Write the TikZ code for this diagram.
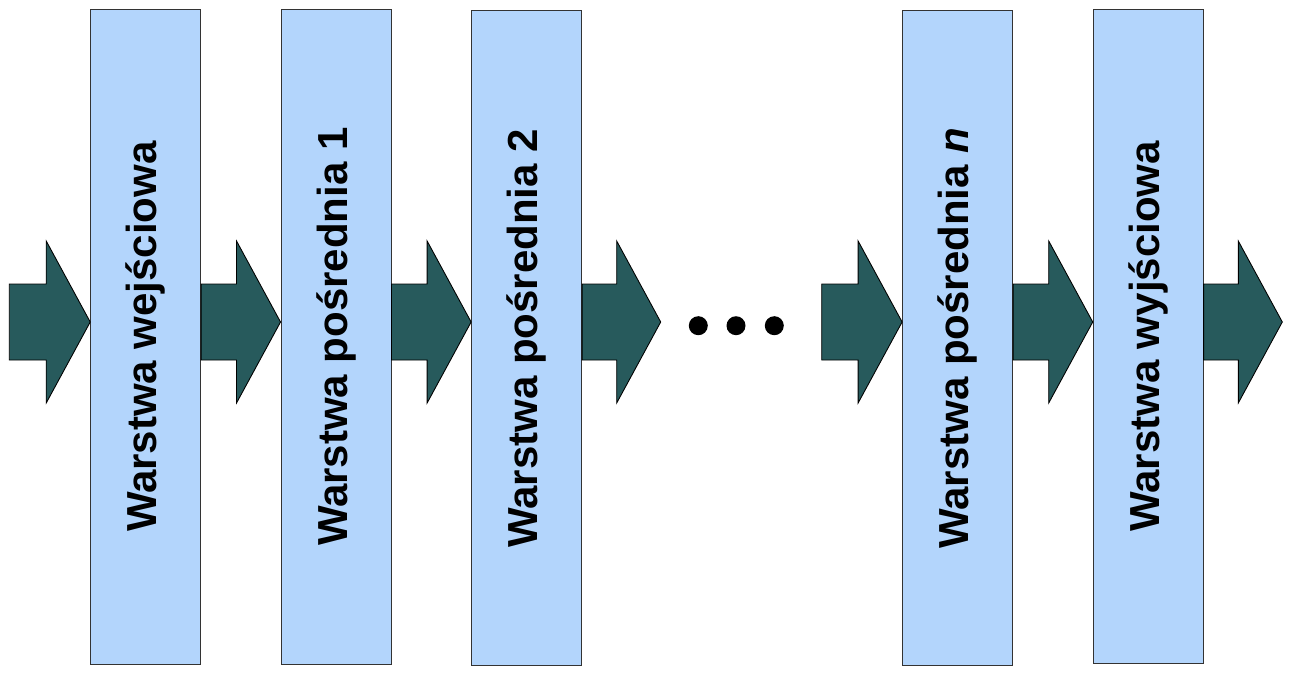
\documentclass[tikz,border=0pt]{standalone}
\usepackage{fontspec}
\setmainfont{Liberation Sans}
\usetikzlibrary{calc}

\definecolor{layerblue}{RGB}{179,213,252}
\definecolor{arrowteal}{RGB}{39,90,92}

\tikzset{
  layer/.style={draw=black!80, line width=0.55pt, fill=layerblue, minimum width=2.2cm, minimum height=13.1cm, inner sep=0pt},
  layertext/.style={rotate=90, font=\fontsize{23.9}{28}\selectfont\bfseries, inner sep=0pt},
  blockarrow/.style={draw=black, line width=0.5pt, fill=arrowteal,
    to path={($(\tikztostart)+(0,-38)$) -- ($(\tikztotarget)+(-44,-38)$) -- ++(0,-43) -- (\tikztotarget) -- ++(-44,81) -- ++(0,-43) -- ($(\tikztostart)+(0,38)$) -- cycle}}
}

\begin{document}
\begin{tikzpicture}[x=0.02cm,y=-0.02cm]
\useasboundingbox (0,0) rectangle (1299,676);

\node[layer] (b1) at (145.7,336.7) {};
\node[layer] (b2) at (336,336.7) {};
\node[layer] (b3) at (526.6,338.3) {};
\node[layer] (b4) at (957.6,338.3) {};
\node[layer] (b5) at (1148.2,336.5) {};

\node[layertext] (t1) at (b1) {Warstwa wejściowa};
\node[layertext] (t2) at (b2) {Warstwa pośrednia 1};
\node[layertext] (t3) at (b3) {Warstwa pośrednia 2};
\node[layertext] (t4) at (b4) {Warstwa pośrednia \textit{n}};
\node[layertext] (t5) at (b5) {Warstwa wyjściowa};

\coordinate (lvl) at (0,322);
\coordinate (in) at (9.3,322);
\coordinate (gapl) at (660.7,322);
\coordinate (gapr) at (821.7,322);
\coordinate (out) at (1282.3,322);

\draw[blockarrow] (in) to (b1.west |- lvl);
\draw[blockarrow] (b1.east |- lvl) to (b2.west |- lvl);
\draw[blockarrow] (b2.east |- lvl) to (b3.west |- lvl);
\draw[blockarrow] (b3.east |- lvl) to (gapl);
\draw[blockarrow] (gapr) to (b4.west |- lvl);
\draw[blockarrow] (b4.east |- lvl) to (b5.west |- lvl);
\draw[blockarrow] (b5.east |- lvl) to (out);

\foreach \x in {698.3,736,774.3}
  \fill (\x,325.7) circle (9.5);
\end{tikzpicture}
\end{document}
